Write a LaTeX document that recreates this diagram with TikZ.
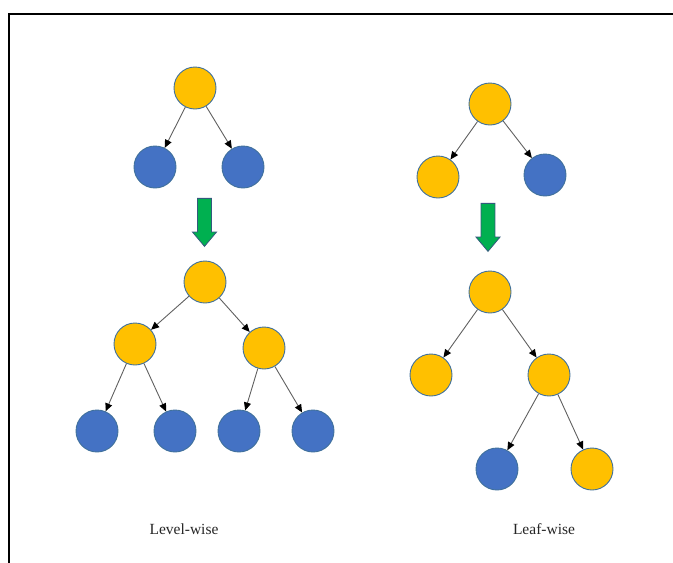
\documentclass[tikz,border=0pt]{standalone}
\usepackage{fontspec}
\setmainfont{Liberation Serif}
\usetikzlibrary{arrows.meta,shapes.arrows}

\definecolor{GoldNode}{HTML}{FFC000}
\definecolor{BlueNode}{HTML}{4472C4}
\definecolor{RimBlue}{HTML}{41719C}
\definecolor{ArrowGreen}{HTML}{00B050}

\tikzset{grown/.style={circle, draw=RimBlue, fill=GoldNode, minimum size=42pt, inner sep=0pt, line width=0.9pt}}
\tikzset{leafnode/.style={circle, draw=RimBlue, fill=BlueNode, minimum size=42pt, inner sep=0pt, line width=0.9pt}}
\tikzset{edge/.style={draw=gray!75!black, line width=0.9pt, -{Triangle[length=8pt,width=7pt,color=black]}}}
\tikzset{bigdown/.style={single arrow, draw=RimBlue!80!black, fill=ArrowGreen, rotate=-90, line width=0.8pt, minimum width=24pt, minimum height=48pt, single arrow head extend=5pt, single arrow tip angle=80, inner xsep=0pt, inner ysep=6.5pt, anchor=tip}}

\begin{document}
\begin{tikzpicture}[x=1pt,y=-1pt]
  \useasboundingbox (0,0) rectangle (673,563);
  % frame
  \draw[line width=2pt] (673,14) -- (9,14) -- (9,563);

  % Level-wise, before
  \node[grown] (LvTopRoot) at (195,88) {};
  \node[leafnode] (LvTopLeft) at (155,167) {};
  \node[leafnode] (LvTopRight) at (243,167) {};
  \node[bigdown] (LvArrow) at (204.5,247) {};

  % Level-wise, after
  \node[grown] (LvRoot) at (205,282) {};
  \node[grown] (LvLeft) at (135,344) {};
  \node[grown] (LvRight) at (264,348) {};
  \node[leafnode] (LvLeftA) at (97,431) {};
  \node[leafnode] (LvLeftB) at (175,431) {};
  \node[leafnode] (LvRightA) at (239,431) {};
  \node[leafnode] (LvRightB) at (313,431) {};

  % Leaf-wise, before
  \node[grown] (LfTopRoot) at (490,104) {};
  \node[grown] (LfTopLeft) at (438,177) {};
  \node[leafnode] (LfTopRight) at (545,175) {};
  \node[bigdown] (LfArrow) at (488,252) {};

  % Leaf-wise, after
  \node[grown] (LfRoot) at (490,292) {};
  \node[grown] (LfLeft) at (431,375) {};
  \node[grown] (LfRight) at (549,375) {};
  \node[leafnode] (LfRightA) at (497,469) {};
  \node[grown] (LfRightB) at (592,469) {};

  \node[text=black!85] (LvLabel) at (184,529) {\fontsize{15.5}{18}\selectfont Level-wise};
  \node[text=black!85] (LfLabel) at (544,529) {\fontsize{15.5}{18}\selectfont Leaf-wise};

  \draw[edge] (LvTopRoot) to (LvTopLeft);
  \draw[edge] (LvTopRoot) to (LvTopRight);

  \draw[edge] (LvRoot) to (LvLeft);
  \draw[edge] (LvRoot) to (LvRight);
  \draw[edge] (LvLeft) to (LvLeftA);
  \draw[edge] (LvLeft) to (LvLeftB);
  \draw[edge] (LvRight) to (LvRightA);
  \draw[edge] (LvRight) to (LvRightB);

  \draw[edge] (LfTopRoot) to (LfTopLeft);
  \draw[edge] (LfTopRoot) to (LfTopRight);

  \draw[edge] (LfRoot) to (LfLeft);
  \draw[edge] (LfRoot) to (LfRight);
  \draw[edge] (LfRight) to (LfRightA);
  \draw[edge] (LfRight) to (LfRightB);
\end{tikzpicture}
\end{document}
